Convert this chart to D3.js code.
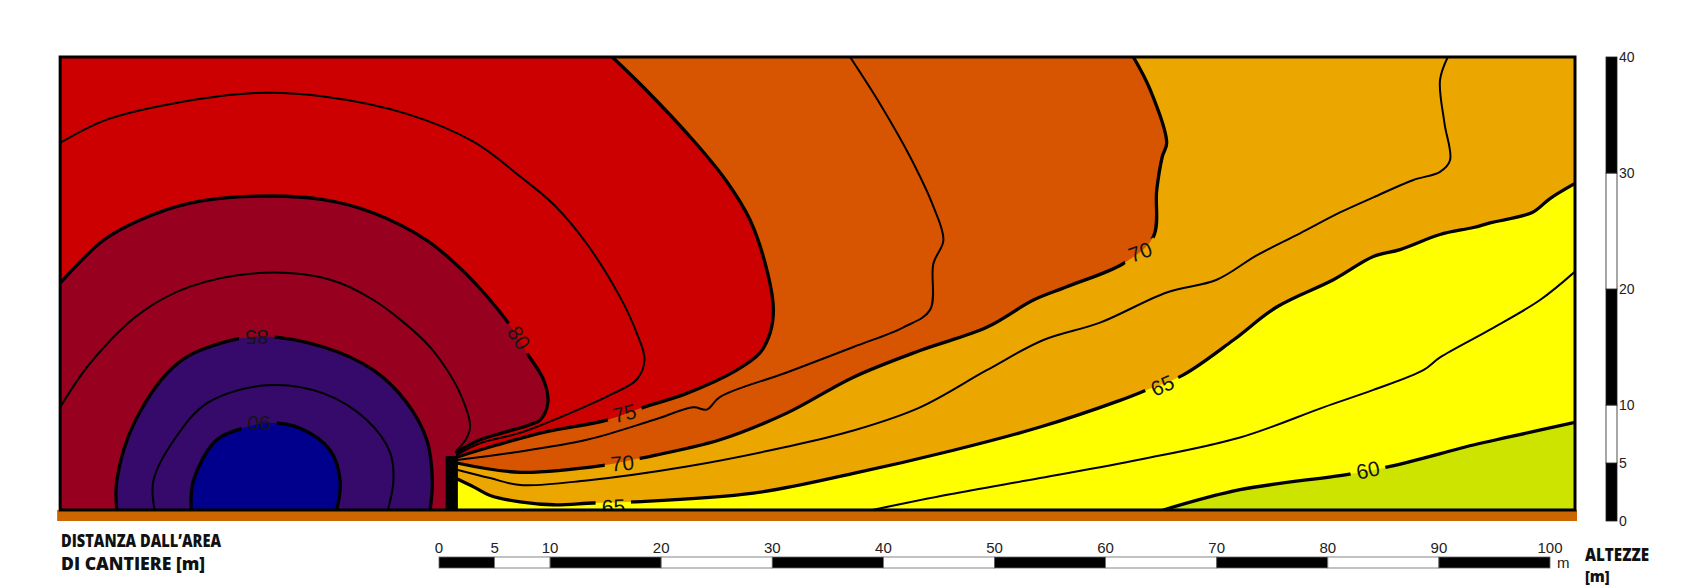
<!DOCTYPE html>
<html>
<head>
<meta charset="utf-8">
<script src="https://cdn.jsdelivr.net/npm/d3@7"></script>
<style>
  body { margin: 0; background: #fff; }
  svg { display: block; }
  .clabel { font-family: "Liberation Sans", Arial, sans-serif; font-size: 21px; fill: #151515; }
  .tick { font-family: "Liberation Sans", Arial, sans-serif; font-size: 15px; fill: #222; }
  .vtick { font-family: "Liberation Sans", Arial, sans-serif; font-size: 14px; fill: #222; }
  .title { font-family: "Open Sans", "DejaVu Sans", sans-serif; font-weight: 800; font-size: 17px; fill: #111; }
</style>
</head>
<body>
<div id="graphic"></div>
<script>
// contour lines of the noise level, points are [distance m, height m]
var c90 = [[-22.3,0.95],[-22.1,3.5],[-20.0,7.0],[-17.3,8.1],[-15.5,8.45],[-12.5,8.0],[-9.8,6.1],[-8.9,3.5],[-9.2,0.95]];
var c875 = [[-25.6,0.95],[-25.7,3.5],[-23.7,7.2],[-20.8,10.2],[-15.5,11.7],[-10.4,11.0],[-6.5,8.7],[-4.4,5.9],[-4.1,3.5],[-4.6,0.95]];
var c85 = [[-29.0,0.95],[-29.0,3.5],[-27.3,8.7],[-23.5,13.6],[-19.4,15.4],[-15.8,15.9],[-10.4,15.0],[-5.9,13.0],[-2.9,10.2],[-1.1,7.0],[-0.6,3.5],[-0.8,0.95]];
var c825 = [[-34.1,9.8],[-31.4,13.6],[-26.9,17.9],[-22.4,20.2],[-15.7,21.4],[-9.8,20.8],[-5.9,19.05],[-1.4,15.6],[0.1,13.9],[1.9,11.0],[2.8,8.1],[2.4,7.0],[1.6,6.1]];
var c80 = [[-34.1,20.5],[-30.2,24.2],[-26.9,25.95],[-22.4,27.4],[-16.4,28.0],[-10.4,27.7],[-5.9,26.55],[-1.1,24.2],[1.9,21.8],[4.6,19.05],[6.8,16.3],[7.9,14.5],[9.4,12.2],[9.8,10.2],[9.1,8.7],[8.2,8.3],[6.1,7.7],[3.7,7.0],[1.6,5.95]];
var c775 = [[-34.1,32.6],[-29.9,34.6],[-23.9,36.0],[-16.4,36.9],[-10.4,36.6],[-2.9,35.1],[3.1,32.7],[7.3,29.7],[10.3,27.3],[13.3,23.9],[16.3,19.3],[17.8,16.2],[18.5,13.9],[17.8,12.2],[15.7,11.0],[11.8,9.3],[7.3,7.6],[3.7,6.7],[1.6,5.7]];
var c75 = [[1.6,5.5],[5.2,6.55],[9.7,7.7],[15.1,8.7],[18.4,9.8],[22.3,11.0],[26.8,13.0],[28.9,14.5],[29.8,16.2],[30.1,18.2],[29.6,21.3],[28.0,25.95],[25.8,29.4],[22.9,32.8],[18.6,37.2],[15.6,40]];
var c725 = [[1.6,5.25],[6.7,5.9],[13.3,7.0],[19.3,8.7],[22.9,9.8],[24.1,9.6],[25.3,10.7],[31.3,12.8],[37.3,15.0],[41.8,16.7],[44.2,18.2],[44.5,22.2],[45.4,24.2],[44.5,27.1],[42.4,31.4],[39.7,35.95],[37.0,40]];
var c70 = [[1.6,5.0],[7.3,4.2],[14.8,4.8],[18.1,5.4],[25.3,7.0],[31.3,9.3],[37.3,12.4],[43.3,14.7],[49.3,16.7],[53.5,19.05],[56.5,20.2],[61.6,22.2],[64.3,24.5],[64.6,28.5],[65.1,31.4],[65.5,32.6],[64.0,37.2],[62.5,40]];
var c675 = [[1.7,4.4],[4.6,3.7],[7.3,3.1],[13.3,3.5],[22.3,4.7],[31.3,6.4],[37.3,7.8],[43.3,9.8],[49.3,13.0],[54.4,15.6],[59.5,17.1],[65.5,19.7],[70.0,20.8],[73.6,22.9],[77.5,24.8],[81.1,26.6],[84.1,27.9],[87.7,29.4],[90.1,30.1],[91.0,31.1],[90.5,34.3],[90.1,38.0],[90.8,40]];
var c65 = [[1.7,3.6],[3.2,2.9],[4.6,2.2],[7.3,1.65],[10.3,1.4],[13.9,1.55],[17.5,1.65],[28.3,2.4],[37.3,4.1],[46.3,6.1],[54.1,8.1],[61.3,10.4],[63.7,11.3],[67.0,12.6],[71.5,15.6],[75.4,18.45],[80.5,20.8],[84.1,22.8],[86.5,23.4],[90.1,24.7],[93.1,25.3],[94.6,25.7],[98.4,26.6],[100.0,27.8],[102.25,29.1]];
var c625 = [[39.0,0.95],[46.0,2.3],[54.1,3.7],[63.1,5.3],[72.1,7.2],[79.6,9.8],[84.1,11.3],[88.6,13.0],[90.1,14.1],[94.6,16.5],[99.1,19.05],[102.25,21.5]];
var c60 = [[65.2,0.95],[72.1,2.7],[81.7,4.0],[85.6,4.7],[93.1,6.55],[96.1,7.2],[102.25,8.5]];

var majorLines = [c90, c85, c80, c75, c70, c65, c60];
var minorLines = [c875, c825, c775, c725, c675, c625];

// filled areas above each level, closed along the frame
var bandLevels = [60, 65, 70, 75, 80, 85, 90];
var bandLines = [c60, c65, c70, c75, c80, c85, c90];
var bandClose = [['TR','TL','BL'], ['TR','TL','BL','WB'], ['TL','BL','WB'], ['TL','BL','WB'], ['WB','BL'], [], []];

var contourLabels = [
  ['90', -16.2, 8.4, 180],
  ['85', -16.4, 15.8, 180],
  ['80', 7.2, 15.8, 57],
  ['75', 16.7, 9.3, -14],
  ['70', 16.5, 5.0, -5],
  ['65', 15.7, 1.25, -2],
  ['70', 63.1, 23.2, -20],
  ['65', 65.1, 11.7, -24],
  ['60', 83.6, 4.4, -12]
];

var scaleTicks = [0, 5, 10, 20, 30, 40, 50, 60, 70, 80, 90, 100];
var heightTicks = [0, 5, 10, 20, 30, 40];

var frame = {x0: -34.1, x1: 102.25, h0: 0.95, h1: 40};
var wall = {x0: 0.6, x1: 1.7, h: 5.6};

var width = 1687, height = 585;

var colour = d3.scaleThreshold()
  .domain([60, 65, 70, 75, 80, 85, 90])
  .range(['#cde300', '#ffff00', '#eba700', '#d75500', '#cc0000', '#98001f', '#350a6b', '#00008c']);

var x = d3.scaleLinear().domain([0, 100]).range([439, 1550]);
var y = d3.scaleLinear().domain([0, 40]).range([521, 57]);

var corners = {
  TL: [frame.x0, frame.h1], TR: [frame.x1, frame.h1],
  BL: [frame.x0, frame.h0], WB: [wall.x0, frame.h0]
};

var line = d3.line()
  .x(d => x(d[0]))
  .y(d => y(d[1]))
  .curve(d3.curveCatmullRom.alpha(0.5));

var svg = d3.select('#graphic').append('svg')
  .attr('width', width)
  .attr('height', height);

var defs = svg.append('defs');

defs.append('clipPath').attr('id', 'plotclip')
  .append('rect')
  .attr('x', x(frame.x0)).attr('y', y(frame.h1))
  .attr('width', x(frame.x1) - x(frame.x0))
  .attr('height', y(frame.h0) - y(frame.h1));

// mask cuts the lines where the labels sit
var mask = defs.append('mask').attr('id', 'labelgap')
  .attr('maskUnits', 'userSpaceOnUse')
  .attr('x', 0).attr('y', 0).attr('width', width).attr('height', height);
mask.append('rect').attr('width', width).attr('height', height).attr('fill', '#fff');

var plot = svg.append('g').attr('clip-path', 'url(#plotclip)');

// lowest band fills the whole frame
plot.append('rect')
  .attr('x', x(frame.x0)).attr('y', y(frame.h1))
  .attr('width', x(frame.x1) - x(frame.x0))
  .attr('height', y(frame.h0) - y(frame.h1))
  .attr('fill', colour(55));

plot.selectAll('path.band')
  .data(bandLevels)
  .join('path')
  .attr('class', 'band')
  .attr('d', (d, i) => line(bandLines[i]) +
    bandClose[i].map(c => 'L' + x(corners[c][0]) + ',' + y(corners[c][1])).join('') + 'Z')
  .attr('fill', d => colour(d));

var lines = plot.append('g').attr('mask', 'url(#labelgap)')
  .attr('fill', 'none').attr('stroke', '#000')
  .attr('stroke-linejoin', 'round').attr('stroke-linecap', 'round');

lines.selectAll('path.minor')
  .data(minorLines)
  .join('path')
  .attr('class', 'minor')
  .attr('d', line)
  .attr('stroke-width', 2);

lines.selectAll('path.major')
  .data(majorLines)
  .join('path')
  .attr('class', 'major')
  .attr('d', line)
  .attr('stroke-width', 3.3);

// the barrier wall
plot.append('rect')
  .attr('x', x(wall.x0)).attr('y', y(wall.h))
  .attr('width', x(wall.x1) - x(wall.x0))
  .attr('height', y(frame.h0) - y(wall.h))
  .attr('fill', '#000');

var labels = plot.selectAll('text.clabel')
  .data(contourLabels)
  .join('text')
  .attr('class', 'clabel')
  .attr('text-anchor', 'middle')
  .attr('dy', '0.36em')
  .attr('transform', d => 'translate(' + x(d[1]) + ',' + y(d[2]) + ') rotate(' + d[3] + ')')
  .text(d => d[0]);

labels.each(function(d) {
  var w = this.getComputedTextLength();
  mask.append('rect')
    .attr('x', -w / 2 - 6).attr('y', -9)
    .attr('width', w + 12).attr('height', 18)
    .attr('fill', '#000')
    .attr('transform', 'translate(' + x(d[1]) + ',' + y(d[2]) + ') rotate(' + d[3] + ')');
});

// ground strip and frame
svg.append('rect')
  .attr('x', x(frame.x0) - 3).attr('y', y(frame.h0))
  .attr('width', x(frame.x1) - x(frame.x0) + 5)
  .attr('height', y(0) - y(frame.h0))
  .attr('fill', '#cc6600');

svg.append('rect')
  .attr('x', x(frame.x0)).attr('y', y(frame.h1))
  .attr('width', x(frame.x1) - x(frame.x0))
  .attr('height', y(frame.h0) - y(frame.h1))
  .attr('fill', 'none').attr('stroke', '#000').attr('stroke-width', 3);

// distance scale bar
var bar = svg.append('g');
bar.selectAll('rect')
  .data(d3.pairs(scaleTicks))
  .join('rect')
  .attr('x', d => x(d[0]))
  .attr('width', d => x(d[1]) - x(d[0]))
  .attr('y', 557).attr('height', 11)
  .attr('fill', (d, i) => i % 2 ? '#fff' : '#000')
  .attr('stroke', '#666').attr('stroke-width', 0.8);

bar.selectAll('text')
  .data(scaleTicks)
  .join('text')
  .attr('class', 'tick')
  .attr('x', d => x(d)).attr('y', 553)
  .attr('text-anchor', 'middle')
  .text(d => d);

bar.append('text').attr('class', 'tick')
  .attr('x', x(100) + 7).attr('y', 568)
  .text('m');

// height scale bar
var vbar = svg.append('g');
vbar.selectAll('rect')
  .data(d3.pairs(heightTicks))
  .join('rect')
  .attr('x', 1606).attr('width', 11)
  .attr('y', d => y(d[1]))
  .attr('height', d => y(d[0]) - y(d[1]))
  .attr('fill', (d, i) => i % 2 ? '#fff' : '#000')
  .attr('stroke', '#222').attr('stroke-width', 0.8);

vbar.selectAll('text')
  .data(heightTicks)
  .join('text')
  .attr('class', 'vtick')
  .attr('x', 1619).attr('y', d => y(d) + 5)
  .text(d => d);

// titles
svg.append('text').attr('class', 'title')
  .attr('x', 61).attr('y', 547)
  .attr('textLength', 160).attr('lengthAdjust', 'spacingAndGlyphs')
  .text('DISTANZA DALL’AREA');
svg.append('text').attr('class', 'title')
  .attr('x', 61).attr('y', 570)
  .attr('textLength', 144).attr('lengthAdjust', 'spacingAndGlyphs')
  .text('DI CANTIERE [m]');
svg.append('text').attr('class', 'title')
  .attr('x', 1585).attr('y', 561)
  .attr('textLength', 64).attr('lengthAdjust', 'spacingAndGlyphs')
  .text('ALTEZZE');
svg.append('text').attr('class', 'title')
  .attr('x', 1585).attr('y', 582)
  .style('font-size', '15px')
  .text('[m]');
</script>
</body>
</html>
